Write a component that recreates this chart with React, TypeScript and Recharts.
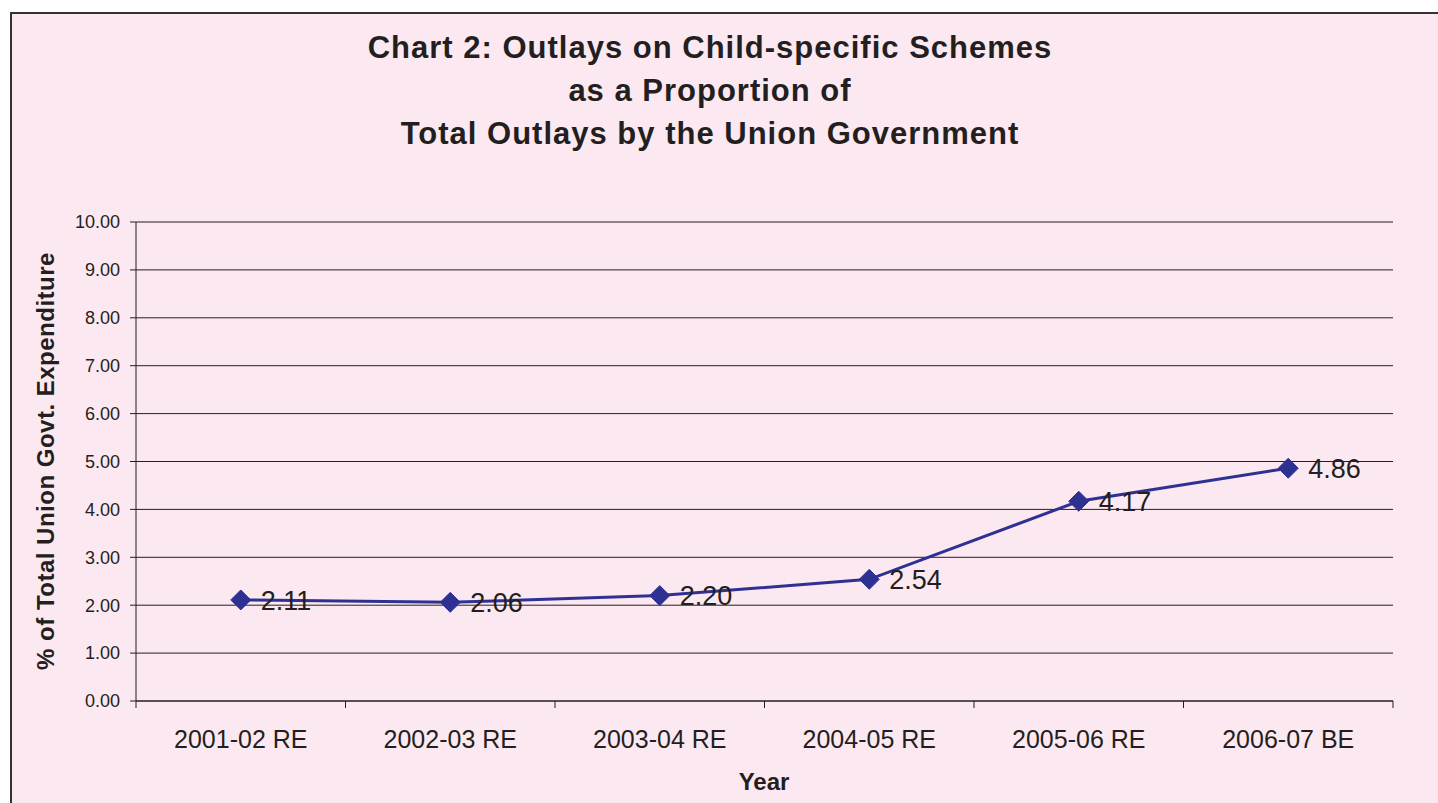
import React from 'react';
import { LineChart, Line, XAxis, YAxis, CartesianGrid, LabelList } from 'recharts';

const categories = ['2001-02 RE', '2002-03 RE', '2003-04 RE', '2004-05 RE', '2005-06 RE', '2006-07 BE'];
const shares = [2.11, 2.06, 2.2, 2.54, 4.17, 4.86];
const yTicks = [0, 1, 2, 3, 4, 5, 6, 7, 8, 9, 10];
const titleLines = [
  'Chart 2: Outlays on Child-specific Schemes',
  'as a Proportion of',
  'Total Outlays by the Union Government',
];
const yTitle = '% of Total Union Govt. Expenditure';
const xTitle = 'Year';

const data = categories.map((c, i) => ({ pos: i + 0.5, cat: c, value: shares[i] }));
const xTicks = categories.flatMap((_, i) => [i, i + 0.5]).concat([categories.length]);

const FONT = '"Liberation Sans", Arial, Helvetica, sans-serif';
const INK = '#231F20';
const NAVY = '#2E3192';
const PINK = '#FCE8F1';

const XTick = (props: any) => {
  const { x, y, payload } = props;
  const v = payload.value as number;
  if (Number.isInteger(v)) {
    return <line x1={x} y1={y - 7} x2={x} y2={y} stroke={INK} strokeWidth={1} />;
  }
  const label = categories[Math.floor(v)];
  return (
    <text x={x} y={y + 40} textAnchor="middle" fontSize={25} fill={INK} fontFamily={FONT}>
      {label}
    </text>
  );
};

const Diamond = (props: any) => {
  const { cx, cy } = props;
  if (cx == null || cy == null) return null;
  const r = 10;
  return (
    <polygon
      points={`${cx},${cy - r} ${cx + r},${cy} ${cx},${cy + r} ${cx - r},${cy}`}
      fill={NAVY}
      stroke={NAVY}
      strokeWidth={1}
    />
  );
};

export default function App() {
  return (
    <div style={{ position: 'absolute', left: 0, top: 0, width: 1438, height: 803, overflow: 'hidden', background: '#fff', fontFamily: FONT }}>
      <style>{`body{margin:0;overflow:hidden}`}</style>
      <div
        style={{
          position: 'absolute',
          left: 10,
          top: 12,
          width: 1440,
          height: 800,
          background: PINK,
          borderLeft: '2px solid #333',
          borderTop: '2px solid #333',
          boxSizing: 'border-box',
        }}
      />
      <div
        style={{
          position: 'absolute',
          left: 0,
          top: 26,
          width: 1420,
          textAlign: 'center',
          fontWeight: 'bold',
          fontSize: 31,
          lineHeight: '43px',
          letterSpacing: 1,
          color: INK,
        }}
      >
        {titleLines.map((t) => (
          <div key={t}>{t}</div>
        ))}
      </div>
      <div
        style={{
          position: 'absolute',
          left: 46,
          top: 461,
          transform: 'translate(-50%, -50%) rotate(-90deg)',
          whiteSpace: 'nowrap',
          fontWeight: 'bold',
          fontSize: 24,
          letterSpacing: 0.5,
          color: INK,
        }}
      >
        {yTitle}
      </div>
      <div
        style={{
          position: 'absolute',
          left: 764,
          top: 782,
          transform: 'translate(-50%, -50%)',
          whiteSpace: 'nowrap',
          fontWeight: 'bold',
          fontSize: 24,
          color: INK,
        }}
      >
        {xTitle}
      </div>
      <div style={{ position: 'absolute', left: 0, top: 0 }}>
        <LineChart width={1438} height={803} data={data} margin={{ top: 222, right: 45, bottom: 62, left: 76 }}>
          <CartesianGrid vertical={false} stroke={INK} strokeWidth={1} horizontalValues={yTicks} />
          <XAxis
            dataKey="pos"
            type="number"
            domain={[0, categories.length]}
            ticks={xTicks}
            interval={0}
            height={40}
            tickSize={7}
            tickMargin={0}
            tickLine={false}
            axisLine={{ stroke: INK, strokeWidth: 1 }}
            tick={<XTick />}
          />
          <YAxis
            type="number"
            domain={[0, 10]}
            ticks={yTicks}
            interval={0}
            width={60}
            tickSize={6}
            tickMargin={10}
            tickLine={{ stroke: INK }}
            axisLine={{ stroke: INK, strokeWidth: 1 }}
            tickFormatter={(v: number) => v.toFixed(2)}
            tick={{ fontSize: 18, fill: INK, fontFamily: FONT }}
          />
          <Line
            dataKey="value"
            stroke={NAVY}
            strokeWidth={3}
            dot={<Diamond />}
            activeDot={false}
            isAnimationActive={false}
          >
            <LabelList
              dataKey="value"
              position="right"
              offset={20}
              fontSize={27}
              fill={INK}
              fontFamily={FONT}
              formatter={(v: any) => Number(v).toFixed(2)}
            />
          </Line>
        </LineChart>
      </div>
    </div>
  );
}
